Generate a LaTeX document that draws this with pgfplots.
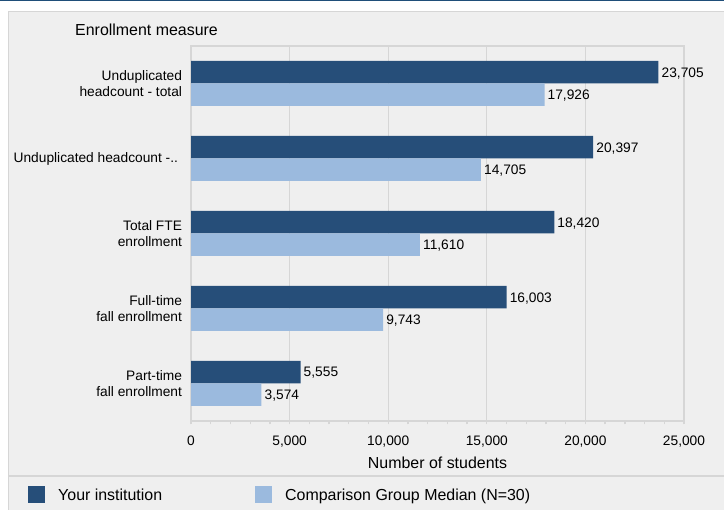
\documentclass[border=0pt]{standalone}
\usepackage{pgfplots}
\pgfplotsset{compat=1.18}
\usepackage{pgfplotstable}
\usepackage{fontspec}
\setmainfont{Liberation Sans}

\definecolor{instblue}{HTML}{264E79}
\definecolor{compblue}{HTML}{9BBADE}
\definecolor{panelgray}{HTML}{EFEFEF}
\definecolor{linegray}{HTML}{D6D6D6}
\definecolor{topblue}{HTML}{1F4E79}

% one row per enrollment measure, y=4 is the top one
\pgfplotstableread{
y inst comp
4 23705 17926
3 20397 14705
2 18420 11610
1 16003 9743
0 5555 3574
}\enrolldata

\newcommand{\smallf}{\fontsize{13.8}{15.7}\selectfont}
\newcommand{\bigf}{\fontsize{16}{19}\selectfont}

\begin{document}
\begin{tikzpicture}[x=1bp,y=1bp]
\path[use as bounding box] (0,0) rectangle (724,510);
\fill[white] (0,0) rectangle (724,510);
\fill[topblue] (0,508.6) rectangle (724,510);
\filldraw[fill=panelgray, draw=linegray, line width=1.3bp] (8.5,-5) rectangle (730,498.5);
\draw[linegray, line width=1.5bp] (8.5,34) -- (730,34);
\node[anchor=base west, font=\bigf, inner sep=0pt] at (75,474) {Enrollment measure};

\begin{axis}[
  at={(191bp,89bp)}, anchor=south west,
  scale only axis, width=493bp, height=375bp,
  xbar, bar width=0.3,
  xmin=0, xmax=25000, ymin=-0.5, ymax=4.5,
  axis line style={draw=linegray, line width=1.3bp},
  xmajorgrids,
  major grid style={linegray, line width=1.3bp},
  xtick={0,5000,...,25000},
  minor x tick num=4,
  xtick pos=bottom,
  tick align=outside,
  x tick style={linegray, line width=1.3bp},
  major tick length=3.5bp, minor tick length=3.5bp,
  scaled x ticks=false,
  /pgf/number format/assume math mode=true,
  /pgf/number format/1000 sep={,},
  xticklabel style={font=\smallf, yshift=-8bp},
  ytick={0,1,2,3,4},
  yticklabels={{Part-time\\fall enrollment},{Full-time\\fall enrollment},{Total FTE\\enrollment},{Unduplicated headcount -..\hspace{4bp}},{Unduplicated\\headcount - total}},
  y tick style={draw=none},
  yticklabel style={align=right, font=\smallf, xshift=-2bp},
  xlabel={Number of students},
  x label style={at={(axis description cs:0.5,-0.112)}, anchor=center, font=\bigf},
  point meta=x,
  nodes near coords,
  nodes near coords style={font=\smallf, anchor=west, inner sep=3bp, text depth=0pt,
    /pgf/number format/1000 sep={,}},
  legend columns=2,
  legend style={draw=none, fill=none, at={(axis description cs:-0.3306,-0.1973)}, anchor=west,
    inner sep=0pt, font=\bigf, nodes={inner sep=0pt},
    /tikz/every odd column/.append style={column sep=13bp},
    /tikz/every even column/.append style={column sep=93bp}},
]
\addplot[fill=instblue, draw=none, bar shift=0.15,
  legend image code/.code={\fill[instblue] (0bp,-8.5bp) rectangle (17bp,8.5bp);}]
  table[x=inst, y=y] {\enrolldata};
\addplot[fill=compblue, draw=none, bar shift=-0.15,
  legend image code/.code={\fill[compblue] (0bp,-8.5bp) rectangle (17bp,8.5bp);}]
  table[x=comp, y=y] {\enrolldata};
\legend{Your institution, Comparison Group Median (N=30)}
\end{axis}
\end{tikzpicture}
\end{document}
